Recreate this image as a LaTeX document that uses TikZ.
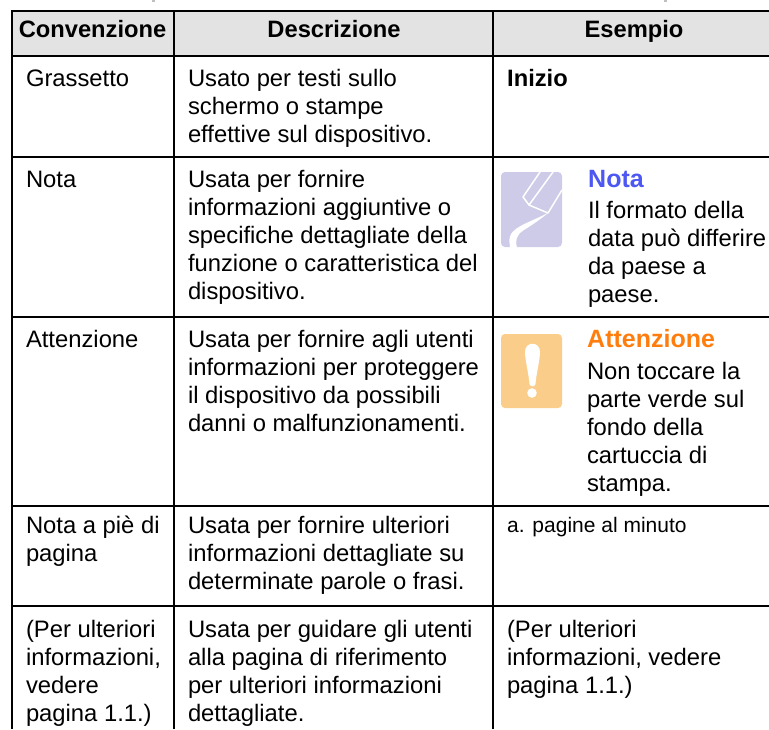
\documentclass[tikz,border=0pt]{standalone}
\usepackage{fontspec}
\setmainfont{Liberation Sans}
\definecolor{headfill}{HTML}{E3E3E3}
\definecolor{notablue}{HTML}{4D57F2}
\definecolor{attorange}{HTML}{FF7D0D}
\definecolor{notaicon}{HTML}{CDCBE8}
\definecolor{atticon}{HTML}{FBCD8A}
\tikzset{
  rule/.style={draw=black,line width=2pt},
  cell/.style={anchor=north west,inner sep=0pt,outer sep=0pt,align=left,yshift=19.6pt,
    font=\fontsize{23.8}{28}\selectfont},
  headtext/.style={anchor=base,inner sep=0pt,font=\fontsize{23.7}{28}\selectfont\bfseries},
  bigtext/.style={anchor=base west,inner sep=0pt,font=\fontsize{25}{28}\selectfont\bfseries},
  foot/.style={anchor=base west,inner sep=0pt,font=\fontsize{21}{26}\selectfont},
  nib/.style={draw=white,line width=1.5pt,line cap=round,line join=round},
}
\begin{document}
\begin{tikzpicture}[x=1pt,y=-1pt]
\useasboundingbox (0,0) rectangle (769,729);
% stray marks at the top edge
\fill[black!25] (151.5,0) rectangle (155,2);
\fill[black!25] (663.5,0) rectangle (667,2);
% header band
\path[fill=headfill] (12,11) rectangle (769,56);
% grid
\foreach \yy in {11,56,157,317,506,606} \draw[rule] (11,\yy) -- (769,\yy);
\foreach \xx in {12,174,493} \draw[rule] (\xx,10) -- (\xx,729);
% header
\node[headtext] (h1) at (92.5,37) {Convenzione};
\node[headtext] (h2) at (334,37) {Descrizione};
\node[headtext] (h3) at (634,37) {Esempio};
% row 1
\node[cell] (a1) at (26,86) {\strut Grassetto};
\node[cell] (b1) at (188,86) {\strut Usato per testi sullo\\schermo o stampe\\effettive sul dispositivo.};
\node[headtext,anchor=base west] (c1) at (507,86) {Inizio};
% row 2
\node[cell] (a2) at (26,187) {\strut Nota};
\node[cell] (b2) at (188,187) {\strut Usata per fornire\\informazioni aggiuntive o\\specifiche dettagliate della\\funzione o caratteristica del\\dispositivo.};
\fill[notaicon,rounded corners=4pt] (501,172) rectangle (562,247);
\draw[nib] (540,172) -- (523,197) -- (529,205) -- (548,213) -- (562,190);
\draw[nib] (553,172) -- (529,205);
\fill[white] (548,213) .. controls (530,222) and (516,226) .. (511,234) .. controls (508,239) and (510,244) .. (510,248) -- (517,248) .. controls (515,241) and (516,235) .. (524,230) .. controls (532,225) and (541,219) .. (548,213) -- cycle;
\node[bigtext,text=notablue] (c2h) at (588,187) {Nota};
\node[cell] (c2) at (588,218) {\strut Il formato della\\data può differire\\da paese a\\paese.};
% row 3
\node[cell] (a3) at (26,347) {\strut Attenzione};
\node[cell] (b3) at (188,347) {\strut Usata per fornire agli utenti\\informazioni per proteggere\\il dispositivo da possibili\\danni o malfunzionamenti.};
\fill[atticon,rounded corners=4pt] (501,334) rectangle (562,408);
\fill[white] (525,352) .. controls (525,341) and (540,341) .. (540,352) .. controls (540,360) and (536,375) .. (535.5,384) .. controls (535,387) and (530,387) .. (529.5,384) .. controls (529,375) and (525,360) .. (525,352) -- cycle;
\fill[white] (532,393) circle (4.8pt);
\node[bigtext,text=attorange] (c3h) at (587,347) {Attenzione};
\node[cell] (c3) at (587,379) {\strut Non toccare la\\parte verde sul\\fondo della\\cartuccia di\\stampa.};
% row 4
\node[cell] (a4) at (26,533) {\strut Nota a piè di\\pagina};
\node[cell] (b4) at (188,533) {\strut Usata per fornire ulteriori\\informazioni dettagliate su\\determinate parole o frasi.};
\node[foot] (c4) at (507,532) {a. pagine al minuto};
% row 5
\node[cell] (a5) at (26,637) {\strut (Per ulteriori\\informazioni,\\vedere\\pagina 1.1.)};
\node[cell] (b5) at (188,637) {\strut Usata per guidare gli utenti\\alla pagina di riferimento\\per ulteriori informazioni\\dettagliate.};
\node[cell] (c5) at (507,637) {\strut (Per ulteriori\\informazioni, vedere\\pagina 1.1.)};
\end{tikzpicture}
\end{document}
